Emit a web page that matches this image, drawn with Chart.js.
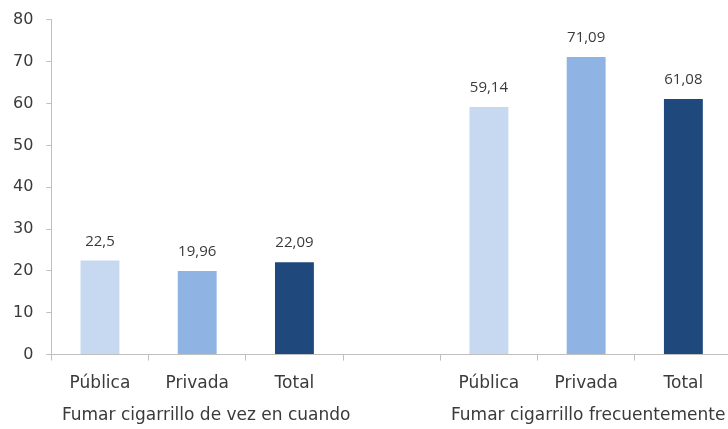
<!DOCTYPE html>
<html>
<head>
<meta charset="utf-8">
<script src="https://cdn.jsdelivr.net/npm/chart.js@4"></script>
<style>
  html, body { margin: 0; padding: 0; background: #fff; overflow: hidden; }
  #wrap { width: 732px; height: 429px; }
</style>
</head>
<body>
<div id="wrap"><canvas id="myChart"></canvas></div>
<script>
// data
const categories = ['Pública', 'Privada', 'Total', '', 'Pública', 'Privada', 'Total'];
const values = [22.5, 19.96, 22.09, null, 59.14, 71.09, 61.08];
const barColors = ['#c6d9f1', '#8fb4e3', '#1f497d', '#ffffff', '#c6d9f1', '#8fb4e3', '#1f497d'];
const groupLabels = ['Fumar cigarrillo de vez en cuando', 'Fumar cigarrillo frecuentemente'];
const groupRanges = [[0, 2], [4, 6]];
const yTicks = [0, 10, 20, 30, 40, 50, 60, 70, 80];

const FONT = "'DejaVu Sans', sans-serif";
const TEXT = '#3a3a3a';
const groupShift = [9, 2];

// value labels above bars + group labels under the axis
const labelsPlugin = {
  id: 'labelsPlugin',
  afterDatasetsDraw(chart) {
    const ctx = chart.ctx;
    const meta = chart.getDatasetMeta(0);
    ctx.save();
    ctx.fillStyle = TEXT;
    ctx.font = "15px 'Open Sans', sans-serif";
    ctx.textAlign = 'center';
    ctx.textBaseline = 'middle';
    meta.data.forEach((bar, i) => {
      if (values[i] == null) return;
      ctx.fillText(String(values[i]).replace('.', ','), bar.x, bar.y - 19);
    });
    const xs = chart.scales.x;
    ctx.font = '17px ' + FONT;
    groupLabels.forEach((txt, g) => {
      const [a, b] = groupRanges[g];
      const cx = (xs.getPixelForValue(a) + xs.getPixelForValue(b)) / 2 + groupShift[g];
      ctx.fillText(txt, cx, 416);
    });
    ctx.restore();
  }
};

const config = {
  type: 'bar',
  data: {
    labels: categories,
    datasets: [{
      data: values,
      backgroundColor: barColors,
      categoryPercentage: 1,
      barPercentage: 0.4
    }]
  },
  options: {
    responsive: true,
    maintainAspectRatio: false,
    animation: false,
    layout: { padding: { top: 0, right: 0, bottom: 22, left: 0 } },
    plugins: { legend: { display: false }, tooltip: { enabled: false } },
    scales: {
      x: {
        grid: { offset: true, drawOnChartArea: false, drawTicks: true, tickLength: 6, color: '#bfbfbf' },
        border: { color: '#bfbfbf' },
        ticks: { color: TEXT, font: { family: FONT, size: 17 }, padding: 13, maxRotation: 0 }
      },
      y: {
        min: 0, max: 80,
        afterBuildTicks: (axis) => { axis.ticks = yTicks.map(v => ({ value: v })); },
        grid: { drawOnChartArea: false, drawTicks: true, tickLength: 5, color: '#bfbfbf' },
        border: { color: '#bfbfbf' },
        ticks: { color: TEXT, font: { family: FONT, size: 16, lineHeight: 0.85 }, padding: 13 }
      }
    }
  },
  plugins: [labelsPlugin]
};

const myChart = new Chart(document.getElementById('myChart'), config);
</script>
</body>
</html>
